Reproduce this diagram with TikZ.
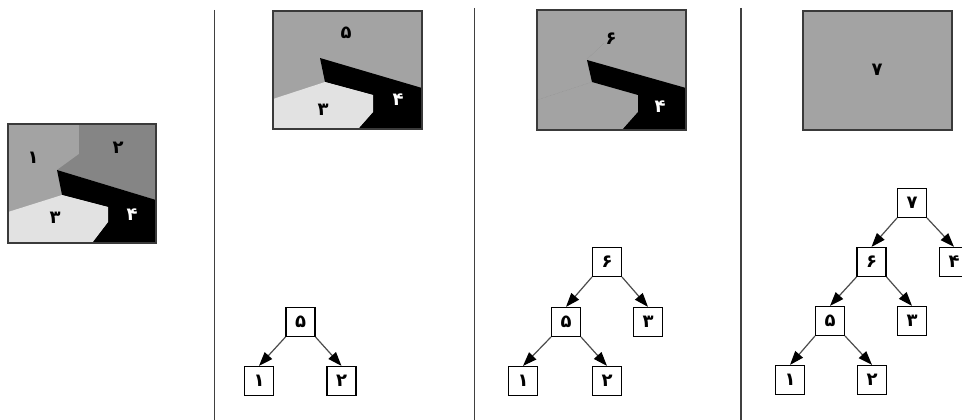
\documentclass[tikz,border=0pt]{standalone}
\usepackage{fontspec}
\newfontfamily\fa[Script=Arabic]{DejaVu Sans}
\usetikzlibrary{arrows.meta}
\definecolor{regA}{HTML}{A3A3A3}
\definecolor{regB}{HTML}{858585}
\definecolor{regC}{HTML}{E2E2E2}
\definecolor{rimc}{HTML}{3A3A3A}
\tikzset{
  x=1pt, y=-1pt,
  digit/.style={font=\fa\fontsize{18}{18}\selectfont\bfseries, inner sep=0pt},
  treebox/.style={draw=black, line width=1.2pt, minimum size=29pt, inner sep=0pt, font=\fa\fontsize{18}{18}\selectfont\bfseries},
  edge/.style={draw=black!70, line width=1.2pt, -{Triangle[length=14pt,width=10pt,color=black]}},
  frame/.style={draw=rimc, line width=1.2pt},
  divider/.style={draw=black!75, line width=1.8pt},
}
\begin{document}
\begin{tikzpicture}
\useasboundingbox (0,0) rectangle (962,420);
\clip (0,0) rectangle (962,420);
\fill[white] (0,0) rectangle (962,420);

% dividers between the four stages
\draw[divider] (214.5,10) -- (214.5,420);
\draw[divider] (474.5,8) -- (474.5,420);
\draw[divider] (741,8) -- (741,420);

% ---------- stage 1: four regions ----------
\fill[regA] (8,124) rectangle (156,243);
\fill[regB] (79,124) -- (156,124) -- (156,200) -- (57,170) -- (79,154) -- cycle;
\fill[black] (57,170) -- (156,200) -- (156,243) -- (92,243) -- (108,222) -- (108,207) -- (62,195) -- cycle;
\fill[regC] (8,212) -- (62,195) -- (108,207) -- (108,222) -- (92,243) -- (8,243) -- cycle;
\draw[frame] (8,124) rectangle (156,243);
\node[digit] (r1) at (33,158) {۱};
\node[digit] (r2) at (118,148) {۲};
\node[digit] (r3) at (55,218) {۳};
\node[digit, text=white] (r4) at (132,215) {۴};

% ---------- stage 2: regions 1 and 2 merged ----------
\fill[regA] (273,11) rectangle (422,129);
\fill[black] (320,58) -- (422,88) -- (422,129) -- (358,129) -- (373,112) -- (373,95) -- (325,82) -- cycle;
\fill[regC] (273,99) -- (325,82) -- (373,95) -- (373,112) -- (358,129) -- (273,129) -- cycle;
\draw[frame] (273,11) rectangle (422,129);
\node[digit] (s5) at (346,33) {۵};
\node[digit] (s3) at (323,110) {۳};
\node[digit, text=white] (s4) at (398,100) {۴};

% ---------- stage 3: region 3 merged ----------
\fill[regA] (537,10) rectangle (686,130);
\fill[black] (587,60) -- (686,88) -- (686,130) -- (622,130) -- (638,112) -- (638,95) -- (592,82) -- cycle;
\draw[black!45, line width=0.4pt, densely dotted] (592,82) -- (537,100);
\draw[black!45, line width=0.4pt, densely dotted] (587,59) -- (604,43);
\draw[frame] (537,10) rectangle (686,130);
\node[digit] (t6) at (611,39) {۶};
\node[digit, text=white] (t4) at (660,107) {۴};

% ---------- stage 4: single region ----------
\fill[regA] (803,11) rectangle (952,130);
\draw[frame] (803,11) rectangle (952,130);
\node[digit] (u7) at (877,70) {۷};

% ---------- merge trees ----------
% stage 2
\node[treebox] (a5) at (300.5,322) {۵};
\node[treebox] (a1) at (259,381) {۱};
\node[treebox] (a2) at (341.5,381) {۲};
\draw[edge] (a5.south west) -- (a1.north);
\draw[edge] (a5.south east) -- (a2.north);

% stage 3
\node[treebox] (b6) at (607,262) {۶};
\node[treebox] (b5) at (566,322) {۵};
\node[treebox] (b3) at (648,322) {۳};
\node[treebox] (b1) at (523,381) {۱};
\node[treebox] (b2) at (607,381) {۲};
\draw[edge] (b6.south west) -- (b5.north);
\draw[edge] (b6.south east) -- (b3.north);
\draw[edge] (b5.south west) -- (b1.north);
\draw[edge] (b5.south east) -- (b2.north);

% stage 4
\node[treebox] (c7) at (912,203) {۷};
\node[treebox] (c6) at (871.5,262) {۶};
\node[treebox] (c4) at (954,262) {۴};
\node[treebox] (c5) at (830,321) {۵};
\node[treebox] (c3) at (912,321) {۳};
\node[treebox] (c1) at (790,380) {۱};
\node[treebox] (c2) at (872,380) {۲};
\draw[edge] (c7.south west) -- (c6.north);
\draw[edge] (c7.south east) -- (c4.north);
\draw[edge] (c6.south west) -- (c5.north);
\draw[edge] (c6.south east) -- (c3.north);
\draw[edge] (c5.south west) -- (c1.north);
\draw[edge] (c5.south east) -- (c2.north);
\end{tikzpicture}
\end{document}
